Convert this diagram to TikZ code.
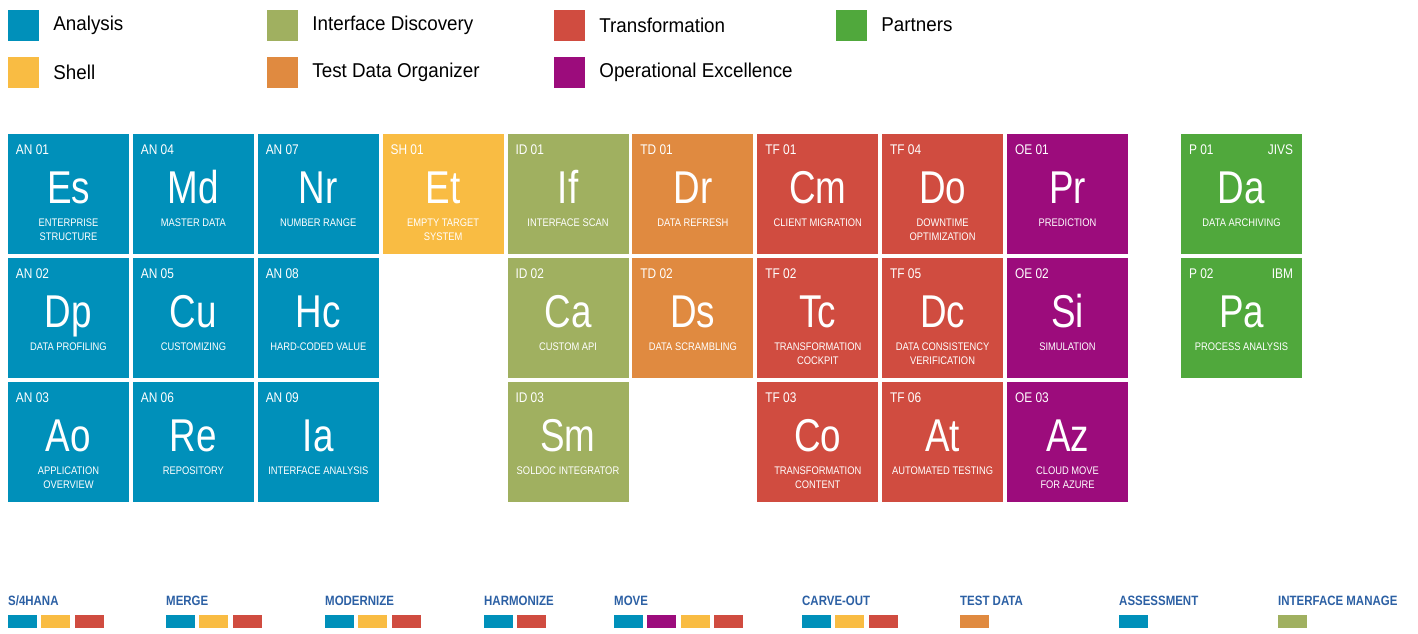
\documentclass[tikz,border=0pt]{standalone}
\usepackage{fontspec}
\setmainfont{Liberation Sans}[FakeStretch=0.94]
\newfontfamily\symfont{Liberation Sans}[FakeStretch=0.8]
\newfontfamily\etroite{Liberation Sans}[FakeStretch=0.85]
\usepackage{tikz}
\usetikzlibrary{positioning}

\definecolor{analyse}{RGB}{0,144,186}
\definecolor{shell}{RGB}{249,188,67}
\definecolor{interface}{RGB}{160,176,96}
\definecolor{testdata}{RGB}{224,138,64}
\definecolor{transfo}{RGB}{208,76,64}
\definecolor{opex}{RGB}{156,12,124}
\definecolor{partner}{RGB}{80,168,60}
\definecolor{scenario}{RGB}{44,96,164}

\tikzstyle{tuile} = [rectangle, draw=none, inner sep=0, minimum width=121, minimum height=120]
\tikzstyle{code} = [anchor=base west, inner sep=0, text=white, font=\etroite\fontsize{14}{16}\selectfont]
\tikzstyle{org} = [code, anchor=base east]
\tikzstyle{symbole} = [anchor=base, inner sep=0, text=white, font=\symfont\fontsize{46}{50}\selectfont]
\tikzstyle{libelle} = [anchor=base, inner sep=0, text=white, font=\etroite\fontsize{11}{14}\selectfont]
\tikzstyle{carre} = [rectangle, draw=none, inner sep=0, minimum size=31]
\tikzstyle{legende} = [anchor=west, inner sep=0, font=\fontsize{20}{22}\selectfont]
\tikzstyle{scen} = [anchor=base west, inner sep=0, text=scenario, font=\etroite\bfseries\fontsize{13.5}{15}\selectfont]
\tikzstyle{barre} = [rectangle, draw=none, inner sep=0, minimum width=29, minimum height=13]

% one element of the table: name, x, y, colour, code, symbol, label
\newcommand{\tuileelem}[7]{%
  \node (#1) [tuile, fill=#4] at (#2,#3) {};
  \node (#1-code) [code] at ([shift={(8,21)}]#1.north west) {#5};
  \node (#1-sym) [symbole] at ([shift={(0,70)}]#1.north) {#6};
  \node (#1-lib) [libelle] at ([shift={(0,93)}]#1.north)
    {\begin{tabular}[t]{@{}c@{}}#7\end{tabular}};
}

\begin{document}
\begin{tikzpicture}[x=1pt, y=-1pt]
        \useasboundingbox (0,0) rectangle (1418,633);

        % legend
        \node (l-an) [carre, fill=analyse]   at (23.5,25) {};
        \node (l-sh) [carre, fill=shell]     at (23.5,72) {};
        \node (l-id) [carre, fill=interface] at (282.5,25) {};
        \node (l-td) [carre, fill=testdata]  at (282.5,72) {};
        \node (l-tf) [carre, fill=transfo]   at (569.5,25) {};
        \node (l-oe) [carre, fill=opex]      at (569.5,72) {};
        \node (l-p)  [carre, fill=partner]   at (851.5,25) {};

        \node (t-an) [legende, right=14 of l-an] {Analysis};
        \node (t-sh) [legende, right=14 of l-sh] {Shell};
        \node (t-id) [legende, right=14 of l-id] {Interface Discovery};
        \node (t-td) [legende, right=14 of l-td] {Test Data Organizer};
        \node (t-tf) [legende, right=14 of l-tf] {Transformation};
        \node (t-oe) [legende, right=14 of l-oe] {Operational Excellence};
        \node (t-p)  [legende, right=14 of l-p]  {Partners};

        % analysis
        \tuileelem{es}{68.5}{194}{analyse}{AN 01}{Es}{ENTERPRISE\\STRUCTURE}
        \tuileelem{dp}{68.5}{318}{analyse}{AN 02}{Dp}{DATA PROFILING}
        \tuileelem{ao}{68.5}{442}{analyse}{AN 03}{Ao}{APPLICATION\\OVERVIEW}
        \tuileelem{md}{193.4}{194}{analyse}{AN 04}{Md}{MASTER DATA}
        \tuileelem{cu}{193.4}{318}{analyse}{AN 05}{Cu}{CUSTOMIZING}
        \tuileelem{re}{193.4}{442}{analyse}{AN 06}{Re}{REPOSITORY}
        \tuileelem{nr}{318.3}{194}{analyse}{AN 07}{Nr}{NUMBER RANGE}
        \tuileelem{hc}{318.3}{318}{analyse}{AN 08}{Hc}{HARD-CODED VALUE}
        \tuileelem{ia}{318.3}{442}{analyse}{AN 09}{Ia}{INTERFACE ANALYSIS}
        % shell
        \tuileelem{et}{443.1}{194}{shell}{SH 01}{Et}{EMPTY TARGET\\SYSTEM}
        % interface discovery
        \tuileelem{if}{568}{194}{interface}{ID 01}{If}{INTERFACE SCAN}
        \tuileelem{ca}{568}{318}{interface}{ID 02}{Ca}{CUSTOM API}
        \tuileelem{sm}{568}{442}{interface}{ID 03}{Sm}{SOLDOC INTEGRATOR}
        % test data
        \tuileelem{dr}{692.9}{194}{testdata}{TD 01}{Dr}{DATA REFRESH}
        \tuileelem{ds}{692.9}{318}{testdata}{TD 02}{Ds}{DATA SCRAMBLING}
        % transformation
        \tuileelem{cm}{817.8}{194}{transfo}{TF 01}{Cm}{CLIENT MIGRATION}
        \tuileelem{tc}{817.8}{318}{transfo}{TF 02}{Tc}{TRANSFORMATION\\COCKPIT}
        \tuileelem{co}{817.8}{442}{transfo}{TF 03}{Co}{TRANSFORMATION\\CONTENT}
        \tuileelem{do}{942.6}{194}{transfo}{TF 04}{Do}{DOWNTIME\\OPTIMIZATION}
        \tuileelem{dc}{942.6}{318}{transfo}{TF 05}{Dc}{DATA CONSISTENCY\\VERIFICATION}
        \tuileelem{at}{942.6}{442}{transfo}{TF 06}{At}{AUTOMATED TESTING}
        % operational excellence
        \tuileelem{pr}{1067.5}{194}{opex}{OE 01}{Pr}{PREDICTION}
        \tuileelem{si}{1067.5}{318}{opex}{OE 02}{Si}{SIMULATION}
        \tuileelem{az}{1067.5}{442}{opex}{OE 03}{Az}{CLOUD MOVE\\FOR AZURE}
        % partners
        \tuileelem{da}{1241.5}{194}{partner}{P 01}{Da}{DATA ARCHIVING}
        \tuileelem{pa}{1241.5}{318}{partner}{P 02}{Pa}{PROCESS ANALYSIS}
        \node (da-org) [org] at ([shift={(-9,21)}]da.north east) {JIVS};
        \node (pa-org) [org] at ([shift={(-9,21)}]pa.north east) {IBM};

        % scenarios
        \node (s-s4) [scen] at (8,605)    {S/4HANA};
        \node (s-me) [scen] at (166,605)  {MERGE};
        \node (s-mo) [scen] at (325,605)  {MODERNIZE};
        \node (s-ha) [scen] at (484,605)  {HARMONIZE};
        \node (s-mv) [scen] at (614,605)  {MOVE};
        \node (s-ca) [scen] at (802,605)  {CARVE-OUT};
        \node (s-td) [scen] at (960,605)  {TEST DATA};
        \node (s-as) [scen] at (1119,605) {ASSESSMENT};
        \node (s-im) [scen] at (1278,605) {INTERFACE MANAGE};

        \node (b-s4-1) [barre, fill=analyse] at (22.5,621.5) {};
        \node (b-s4-2) [barre, fill=shell, right=4 of b-s4-1] {};
        \node (b-s4-3) [barre, fill=transfo, right=4 of b-s4-2] {};
        \node (b-me-1) [barre, fill=analyse] at (180.5,621.5) {};
        \node (b-me-2) [barre, fill=shell, right=4 of b-me-1] {};
        \node (b-me-3) [barre, fill=transfo, right=4 of b-me-2] {};
        \node (b-mo-1) [barre, fill=analyse] at (339.5,621.5) {};
        \node (b-mo-2) [barre, fill=shell, right=4 of b-mo-1] {};
        \node (b-mo-3) [barre, fill=transfo, right=4 of b-mo-2] {};
        \node (b-ha-1) [barre, fill=analyse] at (498.5,621.5) {};
        \node (b-ha-2) [barre, fill=transfo, right=4 of b-ha-1] {};
        \node (b-mv-1) [barre, fill=analyse] at (628.5,621.5) {};
        \node (b-mv-2) [barre, fill=opex, right=4 of b-mv-1] {};
        \node (b-mv-3) [barre, fill=shell, right=4 of b-mv-2] {};
        \node (b-mv-4) [barre, fill=transfo, right=4 of b-mv-3] {};
        \node (b-ca-1) [barre, fill=analyse] at (816.5,621.5) {};
        \node (b-ca-2) [barre, fill=shell, right=4 of b-ca-1] {};
        \node (b-ca-3) [barre, fill=transfo, right=4 of b-ca-2] {};
        \node (b-td-1) [barre, fill=testdata] at (974.5,621.5) {};
        \node (b-as-1) [barre, fill=analyse] at (1133.5,621.5) {};
        \node (b-im-1) [barre, fill=interface] at (1292.5,621.5) {};
\end{tikzpicture}
\end{document}
